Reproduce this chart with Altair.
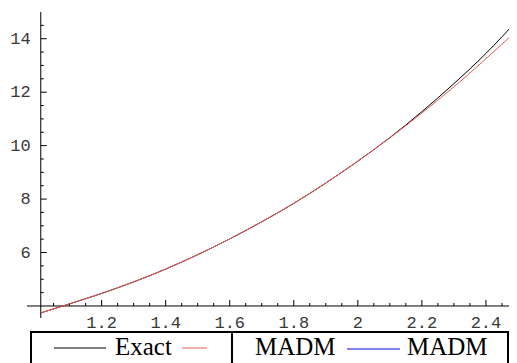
import altair as alt
import pandas as pd

# ---- data ----
x_vals = [1.01, 1.1, 1.2, 1.3, 1.4, 1.5, 1.6, 1.7, 1.8, 1.9, 2.0, 2.1, 2.2, 2.3, 2.4, 2.5]
exact = [3.74, 4.08, 4.47, 4.90, 5.38, 5.92, 6.51, 7.15, 7.84, 8.60, 9.42, 10.30, 11.27, 12.32, 13.45, 14.72]
madm = [3.74, 4.08, 4.47, 4.90, 5.38, 5.92, 6.51, 7.15, 7.84, 8.60, 9.42, 10.29, 11.22, 12.20, 13.25, 14.35]

x_tick_major = [1.2, 1.4, 1.6, 1.8, 2.0, 2.2, 2.4]
x_tick_labels = ["1.2", "1.4", "1.6", "1.8", "2", "2.2", "2.4"]
x_tick_minor = [1.05, 1.1, 1.15, 1.25, 1.3, 1.35, 1.45, 1.5, 1.55, 1.65, 1.7, 1.75,
                1.85, 1.9, 1.95, 2.05, 2.1, 2.15, 2.25, 2.3, 2.35, 2.45]
y_tick_major = [6, 8, 10, 12, 14]
y_tick_labels = ["6", "8", "10", "12", "14"]
y_tick_minor = [4.5, 5, 5.5, 6.5, 7, 7.5, 8.5, 9, 9.5, 10.5, 11, 11.5, 12.5, 13, 13.5, 14.5]

x_domain = [0.967, 2.472]
y_domain = [3.55, 15.0]
x_origin = 1.01
y_origin = 4.0

W, H = 482, 306

xs = alt.Scale(domain=x_domain, nice=False, zero=False)
ys = alt.Scale(domain=y_domain, nice=False, zero=False)

curves = pd.DataFrame({
    "x": x_vals * 2,
    "y": exact + madm,
    "s": ["Exact"] * len(x_vals) + ["MADM"] * len(x_vals),
})

lines = alt.Chart(curves).mark_line(strokeWidth=1, interpolate="monotone", clip=True).encode(
    x=alt.X("x:Q", scale=xs, axis=None),
    y=alt.Y("y:Q", scale=ys, axis=None),
    color=alt.Color("s:N", scale=alt.Scale(domain=["Exact", "MADM"], range=["#000000", "#ec5a5a"]), legend=None),
    detail="s:N",
)

# axes lines
x_axis = alt.Chart(pd.DataFrame({"x": [x_domain[0]], "x2": [x_domain[1]], "y": [y_origin]})).mark_rule(
    color="black", strokeWidth=1).encode(
    x=alt.X("x:Q", scale=xs, axis=None), x2="x2:Q", y=alt.Y("y:Q", scale=ys, axis=None))
y_axis = alt.Chart(pd.DataFrame({"y": [y_domain[0]], "y2": [y_domain[1]], "x": [x_origin]})).mark_rule(
    color="black", strokeWidth=1).encode(
    y=alt.Y("y:Q", scale=ys, axis=None), y2="y2:Q", x=alt.X("x:Q", scale=xs, axis=None))

def xticks(vals, length):
    df = pd.DataFrame({"t": vals, "o": [y_origin] * len(vals)})
    return alt.Chart(df).mark_rule(color="black", strokeWidth=1, y2Offset=-length).encode(
        x=alt.X("t:Q", scale=xs, axis=None), y=alt.Y("o:Q", scale=ys, axis=None), y2="o:Q")

def yticks(vals, length):
    df = pd.DataFrame({"t": vals, "o": [x_origin] * len(vals)})
    return alt.Chart(df).mark_rule(color="black", strokeWidth=1, x2Offset=length).encode(
        y=alt.Y("t:Q", scale=ys, axis=None), x=alt.X("o:Q", scale=xs, axis=None), x2="o:Q")

x_labels = alt.Chart(pd.DataFrame({"t": x_tick_major, "l": x_tick_labels, "o": [y_origin] * len(x_tick_major)})).mark_text(
    font="Liberation Mono", fontSize=17, color="#383838", baseline="middle", align="center", dy=17
).encode(x=alt.X("t:Q", scale=xs, axis=None), y=alt.Y("o:Q", scale=ys, axis=None), text="l:N")

y_labels = alt.Chart(pd.DataFrame({"t": y_tick_major, "l": y_tick_labels, "o": [x_origin] * len(y_tick_major)})).mark_text(
    font="Liberation Mono", fontSize=17, color="#383838", baseline="middle", align="right", dx=-10
).encode(y=alt.Y("t:Q", scale=ys, axis=None), x=alt.X("o:Q", scale=xs, axis=None), text="l:N")

# legend (boxed, below the plot)
one = pd.DataFrame({"a": [0]})
box1 = alt.Chart(one).mark_rect(fill="white", stroke="black", strokeWidth=2).encode(
    x=alt.value(4), x2=alt.value(205), y=alt.value(320), y2=alt.value(358))
box2 = alt.Chart(one).mark_rect(fill="white", stroke="black", strokeWidth=2).encode(
    x=alt.value(205), x2=alt.value(481), y=alt.value(320), y2=alt.value(358))
leg_black = alt.Chart(one).mark_rule(color="#000000", strokeWidth=1).encode(
    x=alt.value(27), x2=alt.value(79), y=alt.value(336))
leg_red = alt.Chart(one).mark_rule(color="#ec5a5a", strokeWidth=1).encode(
    x=alt.value(155), x2=alt.value(180), y=alt.value(336))
leg_blue = alt.Chart(one).mark_rule(color="#5a5aee", strokeWidth=1.5).encode(
    x=alt.value(320), x2=alt.value(373), y=alt.value(337))

def leg_text(txt, xpos):
    return alt.Chart(pd.DataFrame({"l": [txt]})).mark_text(
        font="Liberation Serif", fontSize=25, color="black", align="left", baseline="alphabetic"
    ).encode(x=alt.value(xpos), y=alt.value(343), text="l:N")

chart = alt.layer(
    x_axis, y_axis,
    xticks(x_tick_major, 6), xticks(x_tick_minor, 3),
    yticks(y_tick_major, 6), yticks(y_tick_minor, 3),
    x_labels, y_labels,
    lines,
    box1, box2, leg_black, leg_red, leg_blue,
    leg_text("Exact", 88), leg_text("MADM", 228), leg_text("MADM", 380),
).properties(
    width=W, height=H,
    autosize=alt.AutoSizeParams(type="none"),
    padding={"left": 19, "top": 4, "right": 0, "bottom": 60},
    background="white",
).configure_view(stroke=None)

chart.save("out.html", embed_options={"renderer": "svg", "actions": False})
